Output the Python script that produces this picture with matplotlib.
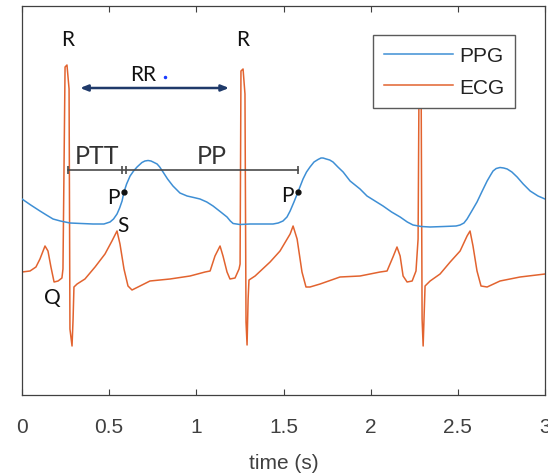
import matplotlib
matplotlib.use("Agg")
import matplotlib.pyplot as plt

# ---------------- data (time in s, amplitude in a.u.) ----------------
ppg_t = [0.000, 0.050, 0.103, 0.140, 0.178, 0.220, 0.275, 0.340, 0.407, 0.470,
         0.505, 0.525, 0.545, 0.560, 0.574, 0.585, 0.600, 0.620, 0.640, 0.660,
         0.688, 0.705, 0.723, 0.740, 0.752, 0.775, 0.790, 0.809, 0.835, 0.866,
         0.906, 0.947, 0.985, 1.021, 1.060, 1.096, 1.140, 1.176, 1.195, 1.211,
         1.250, 1.308, 1.380, 1.440, 1.470, 1.497, 1.520, 1.538, 1.560, 1.583,
         1.612, 1.632, 1.652, 1.675, 1.698, 1.715, 1.727, 1.745, 1.765, 1.784,
         1.812, 1.842, 1.882, 1.939, 1.979, 2.025, 2.071, 2.120, 2.169, 2.210,
         2.243, 2.290, 2.341, 2.420, 2.490, 2.513, 2.535, 2.553, 2.580, 2.610,
         2.640, 2.668, 2.688, 2.702, 2.720, 2.742, 2.763, 2.783, 2.810, 2.840,
         2.875, 2.915, 2.960, 3.000]
ppg_v = [1.96, 1.90, 1.84, 1.80, 1.76, 1.74, 1.72, 1.715, 1.71, 1.71,
         1.73, 1.76, 1.81, 1.87, 1.94, 2.03, 2.11, 2.19, 2.24, 2.28,
         2.325, 2.34, 2.345, 2.34, 2.33, 2.31, 2.28, 2.23, 2.16, 2.09,
         2.02, 1.99, 1.975, 1.96, 1.93, 1.89, 1.83, 1.78, 1.74, 1.715,
         1.705, 1.71, 1.71, 1.71, 1.72, 1.74, 1.78, 1.84, 1.93, 2.03,
         2.16, 2.23, 2.28, 2.33, 2.355, 2.37, 2.37, 2.36, 2.35, 2.33,
         2.28, 2.23, 2.14, 2.06, 1.99, 1.94, 1.89, 1.83, 1.78, 1.73,
         1.70, 1.685, 1.68, 1.685, 1.69, 1.70, 1.72, 1.76, 1.84, 1.93,
         2.04, 2.14, 2.20, 2.24, 2.265, 2.275, 2.27, 2.26, 2.23, 2.18,
         2.11, 2.04, 1.99, 1.96]

ecg_t = [0.000, 0.046, 0.080, 0.103, 0.132, 0.149, 0.166, 0.184, 0.207, 0.229,
         0.235, 0.247, 0.258, 0.270, 0.275, 0.287, 0.293, 0.298,
         0.316, 0.361, 0.419, 0.476, 0.516, 0.545, 0.562, 0.585, 0.608, 0.631,
         0.677, 0.734, 0.849, 0.964, 1.050, 1.079, 1.107, 1.136, 1.153, 1.176,
         1.193, 1.222, 1.245,
         1.251, 1.256, 1.268, 1.279, 1.285, 1.291, 1.297, 1.302,
         1.337, 1.423, 1.480, 1.538, 1.555, 1.578, 1.606, 1.629, 1.652, 1.710,
         1.824, 1.939, 2.054, 2.094, 2.128, 2.151, 2.169, 2.186, 2.209, 2.238,
         2.260, 2.272, 2.278, 2.289, 2.295, 2.301, 2.312,
         2.341, 2.398, 2.456, 2.513, 2.553, 2.570, 2.587, 2.610, 2.633, 2.668,
         2.742, 2.857, 3.000]
ecg_v = [1.23, 1.24, 1.28, 1.36, 1.49, 1.44, 1.28, 1.13, 1.14, 1.17,
         1.26, 3.28, 3.30, 3.06, 0.66, 0.49, 0.76, 1.08,
         1.11, 1.16, 1.28, 1.41, 1.54, 1.64, 1.51, 1.26, 1.09, 1.05,
         1.09, 1.14, 1.16, 1.19, 1.23, 1.24, 1.39, 1.49, 1.39, 1.23,
         1.16, 1.17, 1.26,
         1.31, 3.24, 3.26, 3.01, 0.73, 0.50, 0.96, 1.15,
         1.19, 1.33, 1.44, 1.61, 1.69, 1.56, 1.23, 1.08, 1.08, 1.11,
         1.18, 1.19, 1.23, 1.24, 1.38, 1.48, 1.39, 1.19, 1.13, 1.14,
         1.24, 1.56, 3.30, 3.30, 0.76, 0.49, 1.09,
         1.14, 1.21, 1.33, 1.44, 1.59, 1.64, 1.49, 1.24, 1.09, 1.08,
         1.14, 1.18, 1.21]

xticks = [0, 0.5, 1, 1.5, 2, 2.5, 3]
xtick_labels = ["0", "0.5", "1", "1.5", "2", "2.5", "3"]

# annotations
r_labels_t = [0.264, 1.268]
r_label_v = 3.56
rr_span = [0.333, 1.188]
rr_v = 3.07
interval_t = [0.264, 0.585, 1.583]   # R peak, PTT end, next P point
interval_v = 2.25
p_points_t = [0.585, 1.583]
p_points_v = [2.03, 2.03]

# ---------------- figure ----------------
W, H = 548, 477
fig = plt.figure(figsize=(W / 100, H / 100), dpi=100)
ax = fig.add_axes([22 / W, 81 / H, 523 / W, 389 / H])

blue = "#3e8fd5"
orange = "#e2632f"
axcol = "#404040"

ax.plot(ppg_t, ppg_v, color=blue, lw=1.1, label="PPG", zorder=3)
ax.plot(ecg_t, ecg_v, color=orange, lw=1.1, label="ECG", zorder=2)

ax.set_xlim(0, 3)
ax.set_ylim(0, 3.89)
ax.set_xticks(xticks)
ax.set_xticklabels(xtick_labels)
ax.set_yticks([])
ax.tick_params(axis="x", direction="in", top=True, length=4, width=0.8,
               color=axcol, labelcolor=axcol, labelsize=15, pad=16)
for s in ax.spines.values():
    s.set_color(axcol)
    s.set_linewidth(0.9)
ax.set_xlabel("time (s)", fontsize=15, color=axcol, family="Liberation Sans",
              labelpad=12)
for lab in ax.get_xticklabels():
    lab.set_family("Liberation Sans")

leg = ax.legend(loc="upper right", bbox_to_anchor=(0.9426, 0.9254),
                borderaxespad=0, fancybox=False, edgecolor="#5a5a5a",
                framealpha=1, handlelength=3.3, handletextpad=0.3,
                labelspacing=0.62, borderpad=0.52,
                prop={"family": "Liberation Sans", "size": 15})
leg.get_frame().set_linewidth(1.0)
for t in leg.get_texts():
    t.set_color("#222222")

afont = {"family": "Lato", "color": "#111111"}
for rt in r_labels_t:
    ax.text(rt, r_label_v, "R", fontsize=15, ha="center", va="center", **afont)

ax.text(0.694, 3.21, "RR", fontsize=15, ha="center", va="center", **afont)
ax.plot([0.82], [3.18], marker="o", ms=1.5, color="#1a3cff", zorder=5)
ax.annotate("", xy=(rr_span[1], rr_v), xytext=(rr_span[0], rr_v),
            arrowprops=dict(arrowstyle="<|-|>,head_length=0.45,head_width=0.18",
                            color="#1f3a6a", lw=1.8, shrinkA=0, shrinkB=0))

# PTT / PP interval line
ax.plot([interval_t[0], interval_t[2]], [interval_v, interval_v],
        color="#4a4a4a", lw=1.2, zorder=4)
for ct in [interval_t[0], interval_t[1] - 0.012, interval_t[1] + 0.012, interval_t[2]]:
    ax.plot([ct], [interval_v], marker="|", ms=6, mew=1.2, color="#4a4a4a", zorder=4)
ax.text(0.430, 2.39, "PTT", fontsize=18, ha="center", va="center",
        family="Lato", color="#333333")
ax.text(1.090, 2.39, "PP", fontsize=18, ha="center", va="center",
        family="Lato", color="#333333")

ax.plot(p_points_t, p_points_v, "o", ms=3.5, color="#111111", zorder=5)
ax.text(0.522, 1.98, "P", fontsize=15, ha="center", va="center", **afont)
ax.text(1.520, 2.00, "P", fontsize=15, ha="center", va="center", **afont)
ax.text(0.579, 1.70, "S", fontsize=15, ha="center", va="center", **afont)
ax.text(0.172, 0.98, "Q", fontsize=15, ha="center", va="center", **afont)

fig.savefig("out.png", dpi=100)
